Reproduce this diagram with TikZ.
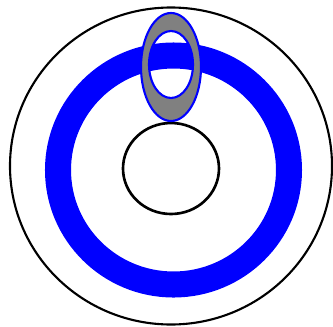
\documentclass[tikz,border=0pt]{standalone}
\usepackage{tikz}
\tikzset{
  rim/.style      = {line width=0.6pt, draw=black},
  hub/.style      = {line width=0.75pt, draw=black},
  band/.style     = {line width=7.4pt, draw=blue},
  link/.style     = {even odd rule, fill=gray, draw=blue, line width=0.6pt},
}

\begin{document}
\begin{tikzpicture}[x=0.01cm,y=-0.01cm]
  \useasboundingbox (0,0) rectangle (333,327);

  % ---- outer disc and hub --------------------------------------------------
  \draw[rim] (171,166) ellipse [x radius=161, y radius=158.5];
  \draw[hub] (171,168.5) ellipse [x radius=48, y radius=45.5];

  % ---- blue band -----------------------------------------------------------
  \draw[band] (173.5,170) ellipse [x radius=115.5, y radius=114.5];

  % ---- grey link over the band ---------------------------------------------
  \filldraw[link] (171,67) ellipse [x radius=30, y radius=54]
                  (171,64.5) ellipse [x radius=22, y radius=33.5];
\end{tikzpicture}
\end{document}
